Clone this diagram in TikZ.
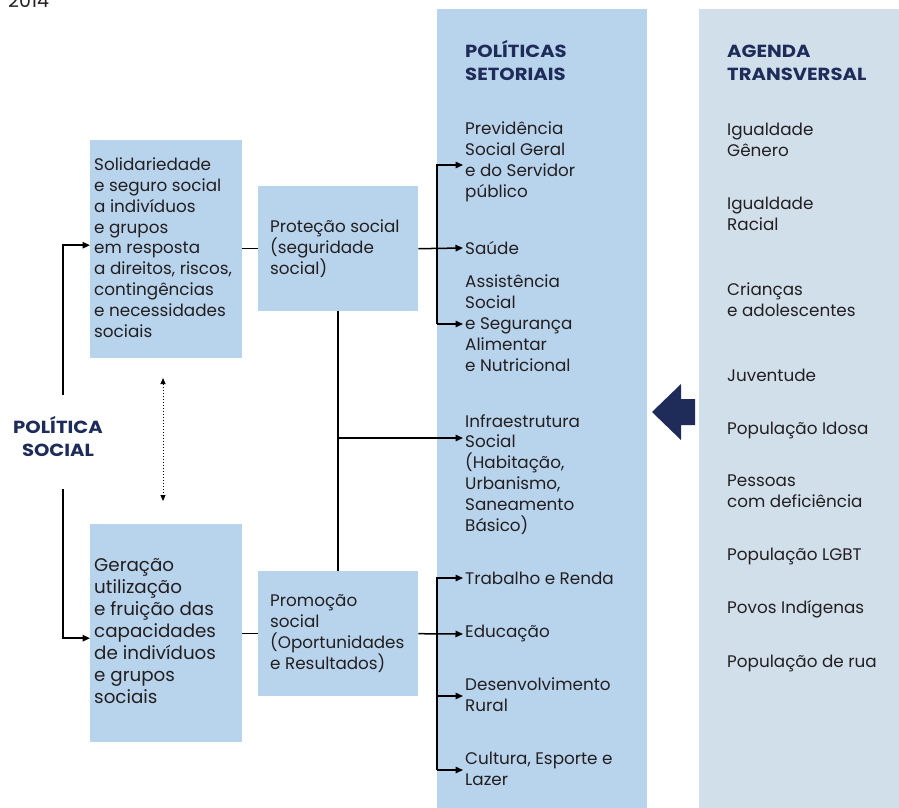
\documentclass[tikz,border=0pt]{standalone}
\usepackage{fontspec}
\setmainfont{Poppins}
\newfontfamily\hdrfont{Poppins}[FakeStretch=1.12]
\usetikzlibrary{arrows.meta}
\definecolor{colblue}{HTML}{B8D3EC}
\definecolor{agblue}{HTML}{D1DFEB}
\definecolor{navy}{HTML}{1F2C5A}
\definecolor{txt}{HTML}{231F20}
\begin{document}
\begin{tikzpicture}[x=1pt,y=-1pt,
  box/.style={fill=colblue, draw=none, inner sep=0pt, anchor=north west},
  txtn/.style={inner sep=0pt, anchor=base west, align=left, font=\fontsize{16.8}{20.8}\selectfont, text=txt},
  hdr/.style={inner sep=0pt, anchor=base west, align=left, font=\hdrfont\fontsize{17.5}{23}\selectfont\bfseries, text=navy},
  conn/.style={line width=1.5pt, draw=black},
  arr/.style={conn, -{Triangle[length=7.5pt,width=6.5pt]}}]
\useasboundingbox (0,0) rectangle (899,808);
% year
\node[txtn, font=\fontsize{19}{22}\selectfont] (year) at (8,7.5) {2014};
% columns
\node[box, minimum width=210pt, minimum height=799pt] (colset) at (437,9) {};
\node[box, fill=agblue, minimum width=200pt, minimum height=799pt] (colag) at (699,9) {};
% boxes
\node[box, minimum width=152pt, minimum height=218pt] (top) at (90,140) {};
\node[box, minimum width=152pt, minimum height=218pt] (bot) at (90,524) {};
\node[box, minimum width=160pt, minimum height=125pt] (prot) at (258,186) {};
\node[box, minimum width=160pt, minimum height=125pt] (prom) at (258,571) {};
% box texts (base anchor = last line)
\node[txtn] (toptxt) at (94,337) {Solidariedade\\e seguro social\\a indivíduos\\e grupos\\em resposta\\a direitos, riscos,\\contingências\\e necessidades\\sociais};
\node[txtn, font=\fontsize{18.3}{22}\selectfont] (bottxt) at (94,703) {Geração\\utilização\\e fruição das\\capacidades\\de indivíduos\\e grupos\\sociais};
\node[txtn] (prottxt) at (270,274.5) {Proteção social\\(seguridade\\social)};
\node[txtn] (promtxt) at (270,669) {Promoção\\social\\(Oportunidades\\e Resultados)};
% politica social label
\node[hdr, anchor=base, align=center] (ps) at (58,456) {POLÍTICA\\SOCIAL};
% headers
\node[hdr] (h1) at (465,81) {POLÍTICAS\\SETORIAIS};
\node[hdr] (h2) at (727,81) {AGENDA\\TRANSVERSAL};
% setoriais items
\node[txtn] (prev) at (465,197) {Previdência\\Social Geral\\e do Servidor\\público};
\node[txtn] (saude) at (465,254) {Saúde};
\node[txtn] (assist) at (465,371) {Assistência\\Social\\e Segurança\\Alimentar\\e Nutricional};
\node[txtn] (infra) at (465,531) {Infraestrutura\\Social\\(Habitação,\\Urbanismo,\\Saneamento\\Básico)};
\node[txtn] (trab) at (465,584) {Trabalho e Renda};
\node[txtn] (educ) at (465,637) {Educação};
\node[txtn] (desenv) at (465,711) {Desenvolvimento\\Rural};
\node[txtn] (cult) at (465,785.5) {Cultura, Esporte e\\Lazer};
% agenda items
\node[txtn] (g1) at (727,156) {Igualdade\\Gênero};
\node[txtn] (g2) at (727,230.5) {Igualdade\\Racial};
\node[txtn] (g3) at (727,316) {Crianças\\e adolescentes};
\node[txtn] (g4) at (727,381) {Juventude};
\node[txtn] (g5) at (727,434) {População Idosa};
\node[txtn] (g6) at (727,507.5) {Pessoas\\com deficiência};
\node[txtn] (g7) at (727,560) {População LGBT};
\node[txtn] (g8) at (727,613) {Povos Indígenas};
\node[txtn] (g9) at (727,667) {População de rua};
% big arrow
\fill[navy] (652,412) -- (681,384) -- (681,399) -- (695,399) -- (695,425) -- (681,425) -- (681,440) -- cycle;
% coordinates
\coordinate (psA) at (63,395);
\coordinate (psB) at (63,489);
\coordinate (d1) at (163,378);
\coordinate (d2) at (163,501);
\coordinate (aPrev) at (463,165);
\coordinate (aSaude) at (463,248);
\coordinate (aAssist) at (463,324);
\coordinate (aInfra) at (463,438);
\coordinate (aTrab) at (463,578);
\coordinate (aEduc) at (463,634);
\coordinate (aDes) at (463,696);
\coordinate (aCult) at (463,770);
% connectors
\draw[arr] (psA) |- ([yshift=4pt]top.west);
\draw[arr] (psB) |- ([yshift=-5pt]bot.west);
\draw[dotted, line width=1pt, {Triangle[length=6pt,width=5pt]}-{Triangle[length=6pt,width=5pt]}] (d1) -- (d2);
\draw[conn] (prot.west -| top.east) -- (prot.west);
\draw[conn] (prom.west -| bot.east) -- (prom.west);
\draw[arr] (prot.east) -- (aSaude);
\draw[arr] (aAssist -| colset.west) |- (aPrev);
\draw[arr] (aAssist -| colset.west) -- (aAssist);
\draw[conn] (prot.south) -- (prom.north);
\draw[arr] (aInfra -| prot.south) -- (aInfra);
\draw[arr] (prom.east) -- (aEduc);
\draw[arr] (aCult -| colset.west) |- (aTrab);
\draw[arr] (aDes -| colset.west) -- (aDes);
\draw[arr] (aCult -| colset.west) -- (aCult);
\end{tikzpicture}
\end{document}
